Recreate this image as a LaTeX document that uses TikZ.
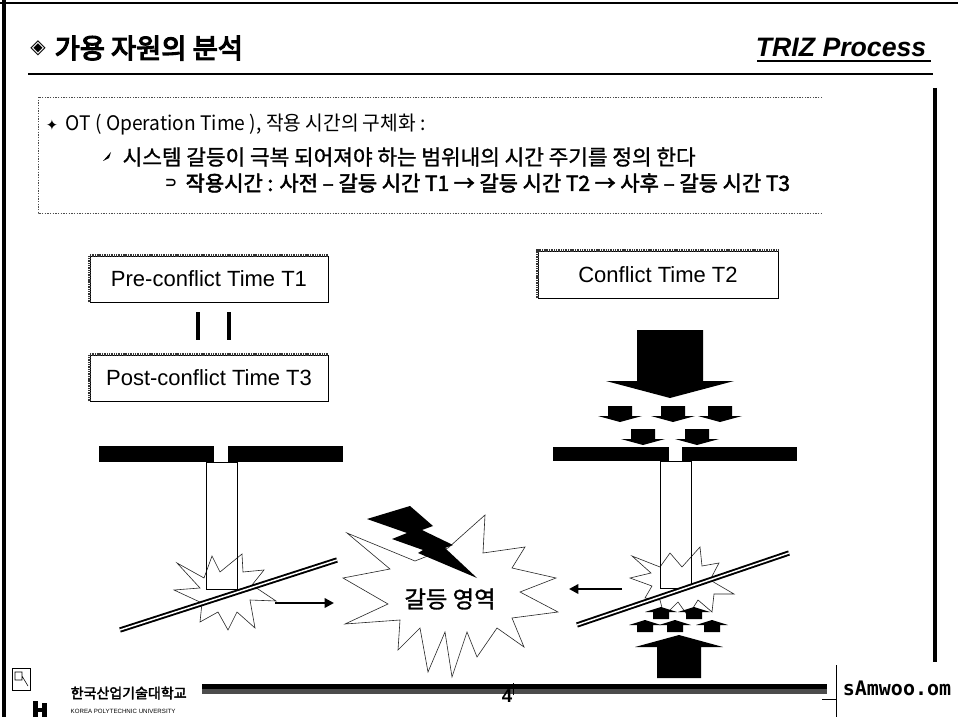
\documentclass[tikz,border=0pt]{standalone}
\usepackage{fontspec}
\usetikzlibrary{arrows.meta,calc}
\setmainfont{Liberation Sans}
\newfontfamily\kr{Noto Sans CJK KR}
\newfontfamily\krmed{Noto Sans CJK KR}[FakeBold=1.2]
\newfontfamily\krbold{Noto Sans CJK KR}[FakeBold=2.4]
\newfontfamily\krheavy{Noto Sans CJK KR}[FakeBold=4.5]
\newfontfamily\dejavu{DejaVu Sans}
\newfontfamily\dejamono{DejaVu Sans Mono}

% block arrow: centre x, shaft half width, shaft end y, head base y, head half width, tip y
\newcommand\blockarrow[6]{%
  \fill (#1-#2,#3) -- (#1+#2,#3) -- (#1+#2,#4) -- (#1+#5,#4) -- (#1,#6)
        -- (#1-#5,#4) -- (#1-#2,#4) -- cycle;}

\begin{document}
\begin{tikzpicture}[x=0.75pt,y=-0.75pt,
  labelbox/.style={draw, line width=0.5pt, fill=white, minimum width=178.5pt,
    minimum height=34.5pt, inner sep=0pt, font=\fontsize{16.5}{18}\selectfont},
  boxedge/.style={line width=2pt, dash pattern=on 0.8pt off 0.5pt, black!80},
  dotbox/.style={line width=0.5pt, dash pattern=on 1pt off 1pt, black!70},
  plate/.style={fill=black},
  rod/.style={draw, line width=0.6pt},
  burst/.style={draw, line width=0.45pt, black!85},
  railout/.style={line width=4pt, line cap=butt},
  railin/.style={line width=1.1pt, white, line cap=butt},
  push/.style={line width=1.8pt, -{Triangle[length=7pt,width=7pt]}},
  eqbar/.style={line width=3pt}
]
\useasboundingbox (0,0) rectangle (958,717);
\fill[white] (0,0) rectangle (958,717);

% page frame
\draw[line width=2.6pt] (4,0) -- (4,717);
\draw[line width=1.5pt] (0,3) -- (958,3);
\draw[line width=2.6pt] (935,88) -- (935,662);

% heading
\node[font=\dejavu\fontsize{15}{16}\selectfont] (dia) at (38,48) {◈};
\node[anchor=west, font=\krheavy\fontsize{20.5}{22}\selectfont] (title) at (50,48) {가용 자원의 분석};
\node[anchor=east, font=\bfseries\itshape\fontsize{20}{22}\selectfont] (triz) at (931,47) {TRIZ Process};
\draw[line width=1.5pt] (757,61) -- (931,61);
\draw[line width=1.5pt] (28,74) -- (933,74);

% definition panel
\draw[dotbox] (822,97) -- (38,97) -- (38,213) -- (822,213);
\node[font=\dejavu\fontsize{11}{12}\selectfont] (b1) at (52,125) {✦};
\node[anchor=west, font=\kr\fontsize{15}{18}\selectfont] (l1) at (61,125)
  {\scalebox{0.96}[1]{OT ( Operation Time ), 작용 시간의 구체화 :}};
\fill (103,161) -- (111,152) -- (109,158) -- cycle;
\node[anchor=west, font=\krmed\fontsize{16}{18}\selectfont] (l2) at (118,157)
  {시스템 갈등이 극복 되어져야 하는 범위내의 시간 주기를 정의 한다};
\node[font=\dejavu\bfseries\fontsize{11}{12}\selectfont] (b3) at (171,183) {⊃};
\node[anchor=west, font=\krbold\fontsize{15.7}{18}\selectfont] (l3) at (181,183)
  {작용시간 : 사전 – 갈등 시간 T1 → 갈등 시간 T2 → 사후 – 갈등 시간 T3};

% time labels
\node[labelbox] (pre) at (209,279) {Pre-conflict Time T1};
\draw[boxedge] (pre.south west) -- (pre.north west) -- (pre.north east);
\node[labelbox] (post) at (209,378) {Post-conflict Time T3};
\draw[boxedge] (post.south west) -- (post.north west) -- (post.north east);
\node[labelbox, minimum width=180pt, minimum height=35.25pt] (con) at (658,274.5) {Conflict Time T2};
\draw[boxedge] (con.south west) -- (con.north west) -- (con.north east);
\draw[eqbar] (198,312) -- (198,340);
\draw[eqbar] (229,312) -- (229,340);

% left mechanism: plate, rod, impact, rail
\fill[plate] (99,446) rectangle (214,462);
\fill[plate] (228,446) rectangle (343,462);
\draw[burst] (177,563) -- (204,578) -- (212,556) -- (220,572) -- (242,554) -- (243,572)
  -- (264,570) -- (252,585) -- (276,601) -- (250,600) -- (255,628) -- (237,612)
  -- (228,630) -- (218,612) -- (200,622) -- (202,603) -- (174,590) -- (200,588) -- cycle;
\draw[rod] (206,462) rectangle (237,589);
\coordinate (railA1) at (120,630);
\coordinate (railA2) at (337,560);
\draw[railout] (railA1) -- (railA2);
\draw[railin] (railA1) -- (railA2);
\coordinate (hitL) at (275,603);
\coordinate (zoneL) at (334,603);
\draw[push] (hitL) -- (zoneL);

% conflict zone
\draw[burst, fill=white] (347,533) -- (415,561) -- (448,548) -- (485,515) -- (483,553)
  -- (525,547) -- (512,568) -- (556,578) -- (520,592) -- (558,612) -- (512,618)
  -- (524,647) -- (497,628) -- (477,657) -- (467,632) -- (452,677) -- (445,632)
  -- (428,672) -- (420,628) -- (398,650) -- (400,620) -- (345,624) -- (388,604)
  -- (343,578) -- (390,569) -- cycle;
\fill (367,519) -- (410,506) -- (433,526) -- (422,530) -- (453,545) -- (445,548)
  -- (477,578) -- (418,553) -- (423,550) -- (392,539) -- (407,533) -- cycle;
\node[font=\krmed\fontsize{17.5}{20}\selectfont] (zone) at (450,599) {갈등 영역};

% right mechanism: loads from above and below
\blockarrow{670}{33}{330}{381}{64}{398}
\blockarrow{620}{12}{406}{416}{22}{422}
\blockarrow{673}{12}{406}{416}{22}{422}
\blockarrow{720}{12}{406}{416}{22}{422}
\blockarrow{643}{12}{429}{439}{22}{445}
\blockarrow{697}{12}{429}{439}{22}{445}
\fill[plate] (553,447) rectangle (669,461);
\fill[plate] (682,447) rectangle (797,461);
\draw[burst] (632,556) -- (660,567) -- (670,553) -- (682,567) -- (700,547) -- (702,566)
  -- (719,563) -- (710,580) -- (734,594) -- (714,594) -- (712,612) -- (698,600)
  -- (688,616) -- (678,602) -- (664,616) -- (660,600) -- (645,598) -- (652,586)
  -- (630,578) -- (651,573) -- cycle;
\draw[rod] (660,461) rectangle (691,588);
\coordinate (railB1) at (577,625);
\coordinate (railB2) at (789,553);
\draw[railout] (railB1) -- (railB2);
\draw[railin] (railB1) -- (railB2);
\coordinate (hitR) at (622,589);
\coordinate (zoneR) at (569,589);
\draw[push] (hitR) -- (zoneR);
\blockarrow{661}{8}{619}{612}{16}{607}
\blockarrow{694}{8}{619}{612}{16}{607}
\blockarrow{645}{8}{632}{625}{16}{620}
\blockarrow{675}{8}{632}{625}{16}{620}
\blockarrow{712}{8}{632}{625}{16}{620}
\blockarrow{679}{22}{678}{647}{44}{635}

% footer
\fill (202,684) rectangle (827,689);
\fill[black!70] (202,689) rectangle (827,694);
\draw[line width=0.6pt] (513,683) -- (513,695);
\node[font=\bfseries\fontsize{14}{16}\selectfont] (pg) at (507,696) {4};
\draw[line width=0.6pt] (836,665) -- (836,717);
\draw[line width=0.4pt] (822,699) -- (836,699);
\node[font=\dejamono\bfseries\fontsize{15}{16}\selectfont] (site) at (897,688) {sAmwoo.om};
\draw[line width=0.5pt] (12,668) rectangle (30,690);
\draw[line width=0.4pt] (15,672) -- (22,672) -- (22,680) -- (15,680) -- cycle
  (22,676) -- (28,686);
\fill (33,701) rectangle (38,717);
\fill (38,708) rectangle (42,712);
\fill (42,703) rectangle (47,717);
\node[anchor=west, font=\krbold\fontsize{10.5}{12}\selectfont] (univ) at (66,693) {한국산업기술대학교};
\node[anchor=west, font=\fontsize{4.6}{5}\selectfont] (univen) at (66,711) {KOREA POLYTECHNIC UNIVERSITY};
\end{tikzpicture}
\end{document}
